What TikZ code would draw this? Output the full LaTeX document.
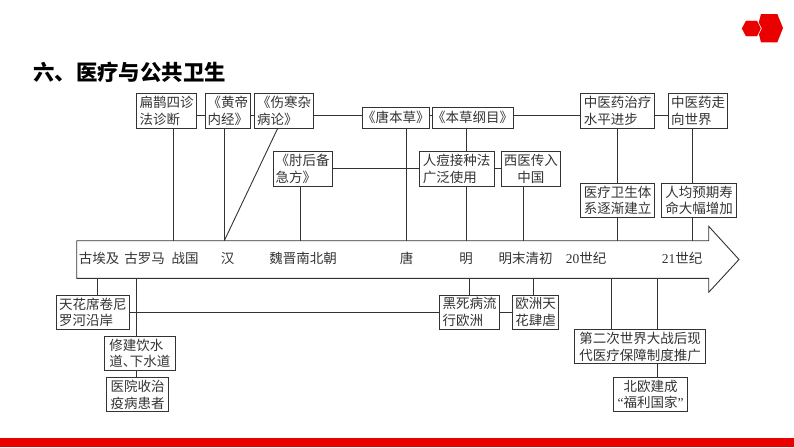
\documentclass[tikz,border=0pt]{standalone}
\usepackage{fontspec}
\setmainfont{Noto Sans CJK SC}
\newfontfamily\latin{Liberation Serif}
\colorlet{bannerRed}{red!92!black}
\colorlet{inkGray}{black!80}
\tikzset{
    box/.style={draw=inkGray, fill=white, line width=0.9pt, inner sep=0pt, align=left, text=inkGray,
        font=\fontsize{13.5}{16.7}\selectfont},
    era/.style={inner sep=0pt, text=inkGray, font=\fontsize{13.5}{16}\selectfont},
    link/.style={draw=inkGray, line width=0.9pt}
}
\begin{document}
\begin{tikzpicture}[x=1pt, y=-1pt]
    \useasboundingbox (0,0) rectangle (794,447);
    \fill[bannerRed] (0,437.7) rectangle (794,447);
    \fill[bannerRed] (757.3,28) -- (761,14) -- (777.3,14) -- (783,28) -- (777.3,42.3) -- (761,42.3) -- cycle;
    \filldraw[fill=bannerRed, draw=white, line width=0.6pt] (741.3,28.5) -- (745.7,20.3) -- (757.3,20.3) -- (761.3,28.5) -- (757.3,36.7) -- (745.7,36.7) -- cycle;
    \node[anchor=west, inner sep=0pt, font=\fontsize{21.4}{24}\selectfont\bfseries] (title) at (33,72) {六、医疗与公共卫生};

    % timeline
    \draw[draw=inkGray, line width=0.9pt, fill=white] (76.7,240.7) -- (708.7,240.7) -- (708.7,226.3) -- (739,259.5) -- (708.7,292.3) -- (708.7,278.3) -- (76.7,278.3) -- cycle;
    \node[era] (egypt) at (99,258.5) {古埃及};
    \node[era] (rome) at (144.5,258.5) {古罗马};
    \node[era] (warring) at (185,258.5) {战国};
    \node[era] (han) at (227.5,258.5) {汉};
    \node[era] (weijin) at (303,258.5) {魏晋南北朝};
    \node[era] (tang) at (406.7,258.5) {唐};
    \node[era] (ming) at (466,258.5) {明};
    \node[era] (mingqing) at (525.7,258.5) {明末清初};
    \node[era] (c20) at (586,258.5) {{\latin 20}世纪};
    \node[era] (c21) at (682,258.5) {{\latin 21}世纪};

    % upper boxes
    \node[box, minimum width=60pt, minimum height=34.6pt] (bianque) at (166.7,111) {扁鹊四诊\\法诊断};
    \node[box, minimum width=44.3pt, minimum height=34.6pt] (huangdi) at (227.8,111) {《黄帝\\内经》};
    \node[box, minimum width=58.6pt, minimum height=34.6pt] (shanghan) at (284,111) {《伤寒杂\\病论》};
    \node[box, minimum width=58.7pt, minimum height=34.3pt] (zhouhou) at (302.7,168.8) {《肘后备\\急方》};
    \node[box, minimum width=61.7pt, minimum height=21pt] (tangben) at (395.8,117.8) {《唐本草》};
    \node[box, minimum width=76.7pt, minimum height=21pt] (gangmu) at (472.7,117.8) {《本草纲目》};
    \node[box, minimum width=75.3pt, minimum height=34.3pt] (rendou) at (456.7,168.8) {人痘接种法\\广泛使用};
    \node[box, minimum width=59pt, minimum height=34.3pt, align=center] (xiyi) at (530.8,168.8) {西医传入\\中国};
    \node[box, minimum width=74.4pt, minimum height=34.6pt] (zhongyi) at (617.5,111) {中医药治疗\\水平进步};
    \node[box, minimum width=58.6pt, minimum height=34.6pt] (zouxiang) at (698,111) {中医药走\\向世界};
    \node[box, minimum width=74.4pt, minimum height=34pt] (tixi) at (617.5,200.3) {医疗卫生体\\系逐渐建立};
    \node[box, minimum width=75pt, minimum height=34pt] (shouming) at (699.2,200.3) {人均预期寿\\命大幅增加};

    % lower boxes
    \node[box, minimum width=73.7pt, minimum height=34.3pt] (tianhua) at (92.8,312.2) {天花席卷尼\\罗河沿岸};
    \node[box, minimum width=70.3pt, minimum height=34.4pt] (shuidao) at (139.8,353.5) {修建饮水\\道、{\kern-6.5pt}下水道};
    \node[box, minimum width=62pt, minimum height=34pt] (yiyuan) at (137.7,394.7) {医院收治\\疫病患者};
    \node[box, minimum width=60pt, minimum height=34.3pt] (heisi) at (469.7,312.2) {黑死病流\\行欧洲};
    \node[box, minimum width=46pt, minimum height=34.3pt] (ouzhou) at (535.7,312.2) {欧洲天\\花肆虐};
    \node[box, minimum width=130.6pt, minimum height=34pt] (baozhang) at (640,346.7) {第二次世界大战后现\\代医疗保障制度推广};
    \node[box, minimum width=73.6pt, minimum height=33.6pt, align=center] (fuli) at (650.5,394.5) {北欧建成\\{\latin “}福利国家{\latin ”}};

    % points where the connectors meet
    \coordinate (rowA) at (0,115.7);
    \coordinate (rowB) at (0,168.3);
    \coordinate (rowC) at (0,312.3);
    \coordinate (topBianque) at (173.3,240.7);
    \coordinate (topHan) at (224.3,240.7);
    \coordinate (topZhouhou) at (300,240.7);
    \coordinate (topTang) at (406.7,240.7);
    \coordinate (topMing) at (466.3,240.7);
    \coordinate (topXiyi) at (523.3,240.7);
    \coordinate (topTixi) at (617.3,240.7);
    \coordinate (topShouming) at (692.7,240.7);
    \coordinate (botTianhua) at (97.3,278.3);
    \coordinate (botShuidao) at (136.7,278.3);
    \coordinate (botHeisi) at (469.7,278.3);
    \coordinate (botOuzhou) at (533.3,278.3);
    \coordinate (botLeft) at (611.3,278.3);
    \coordinate (botRight) at (657.3,278.3);
    \coordinate (slantEnd) at (277.7,128.3);

    \foreach \a/\b in {bianque/huangdi, huangdi/shanghan, shanghan/tangben, tangben/gangmu, gangmu/zhongyi, zhongyi/zouxiang}
        \draw[link] (\a.east |- rowA) -- (\b.west |- rowA);
    \foreach \a/\b in {zhouhou/rendou, rendou/xiyi}
        \draw[link] (\a.east |- rowB) -- (\b.west |- rowB);
    \foreach \a/\b in {tianhua/heisi, heisi/ouzhou}
        \draw[link] (\a.east |- rowC) -- (\b.west |- rowC);

    \foreach \a/\b in {bianque/topBianque, huangdi/topHan, zhouhou/topZhouhou, tangben/topTang, rendou/topMing, xiyi/topXiyi, tixi/topTixi, shouming/topShouming}
        \draw[link] (\b |- \a.south) -- (\b);
    \draw[link] (topMing |- gangmu.south) -- (topMing |- rendou.north);
    \draw[link] (topTixi |- zhongyi.south) -- (topTixi |- tixi.north);
    \draw[link] (topShouming |- zouxiang.south) -- (topShouming |- shouming.north);
    \draw[link] (slantEnd) -- (topHan);

    \foreach \a/\b in {tianhua/botTianhua, shuidao/botShuidao, heisi/botHeisi, ouzhou/botOuzhou, baozhang/botLeft, baozhang/botRight}
        \draw[link] (\b) -- (\b |- \a.north);
    \draw[link] (botShuidao |- shuidao.south) -- (botShuidao |- yiyuan.north);
    \draw[link] (botRight |- baozhang.south) -- (botRight |- fuli.north);
\end{tikzpicture}
\end{document}
